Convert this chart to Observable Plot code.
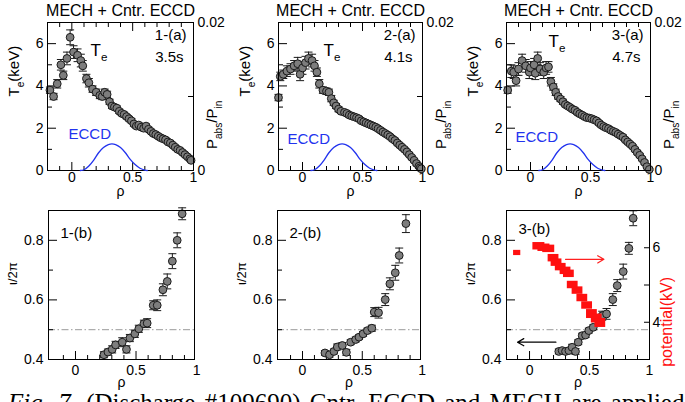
<!DOCTYPE html>
<html><head><meta charset="utf-8">
<script src="https://cdn.jsdelivr.net/npm/d3@7"></script>
<script src="https://cdn.jsdelivr.net/npm/@observablehq/plot@0.6"></script>
<style>
body{margin:0;background:#fff;}
#fig{position:relative;width:685px;height:402px;overflow:hidden;background:#fff;}
#caption{position:absolute;left:8px;top:390px;font-family:"Liberation Serif","Times New Roman",serif;font-size:25px;line-height:25px;word-spacing:3px;white-space:nowrap;color:#000;}
</style></head><body>
<div id="fig"><div id="caption"><i>Fig. 7.</i> (Discharge #109690) Cntr. ECCD and MECH are applied</div></div>
<script>
// ---------- text ----------
const titleText = "MECH + Cntr. ECCD";
const teAxisLabel = "T_{e}(keV)";
const pAxisLabel = "P_{abs}/P_{in}";
const rhoLabel = "ρ";
const iotaLabel = "ι/2π";
const potLabel = "potential(kV)";
const teMarkLabel = "T_{e}";
const eccdLabel = "ECCD";
const tagsA = ["1-(a)", "2-(a)", "3-(a)"];
const timesA = ["3.5s", "4.1s", "4.7s"];
const tagsB = ["1-(b)", "2-(b)", "3-(b)"];

// ---------- ticks ----------
const xMajorTicks = [0, 0.5, 1];
const xMinorTicks = [-0.1, 0.1, 0.2, 0.3, 0.4, 0.6, 0.7, 0.8, 0.9];
const teMajorTicks = [0, 2, 4, 6];
const teMinorTicks = [1, 3, 5];
const pabsTickLabels = [0, 0.02];
const pabsTicks = [0.01];
const iotaMajorTicks = [0.4, 0.6, 0.8];
const iotaMinorTicks = [0.5, 0.7];
const kvTickLabels = [4, 6];
const kvTicks = [4, 5, 6];
const iotaRational = [0.5];

// ---------- data: Te profiles ----------
const te1Rho = [-0.18,-0.15,-0.12,-0.09,-0.07,-0.04,-0.014,0.014,0.047,0.074,0.09,0.12,0.14,0.17,0.2,0.23,0.25,0.27,0.29,0.31,0.33,0.35,0.37,0.39,0.41,0.43,0.45,0.47,0.49,0.51,0.53,0.55,0.57,0.59,0.61,0.63,0.65,0.67,0.69,0.71,0.73,0.75,0.77,0.79,0.81,0.83,0.85,0.87,0.89,0.91,0.93,0.95,0.97,0.98];
const te1Val = [3.8,3.5,4.1,5.0,4.5,5.3,6.3,5.6,5.45,5.2,4.95,4.35,4.15,3.85,3.7,3.55,3.5,3.7,3.6,3.25,3.05,3.0,2.95,2.8,2.7,2.65,2.55,2.45,2.35,2.2,2.1,2.15,2.05,2.0,2.1,1.95,1.85,1.75,1.7,1.62,1.55,1.5,1.45,1.35,1.3,1.2,1.1,1.0,0.95,0.85,0.75,0.65,0.55,0.48];
const te1Err = [0.15,0.15,0.2,0.25,0.2,0.3,0.35,0.3,0.3,0.3,0.25,0.2,0.2,0.15,0.15,0.15,0.15,0.15,0.15,0.12,0.12,0.1,0.1,0.1,0.1,0.1,0.1,0.1,0.1,0.1,0.1,0.1,0.1,0.1,0.1,0.1,0.1,0.1,0.1,0.1,0.1,0.1,0.1,0.08,0.08,0.08,0.08,0.08,0.08,0.08,0.08,0.08,0.08,0.08];

const te2Rho = [-0.2,-0.185,-0.16,-0.13,-0.1,-0.07,-0.04,-0.02,0.0,0.025,0.05,0.08,0.1,0.12,0.14,0.17,0.2,0.22,0.24,0.26,0.28,0.3,0.32,0.35,0.37,0.39,0.41,0.43,0.45,0.47,0.49,0.51,0.53,0.55,0.57,0.59,0.61,0.63,0.65,0.67,0.69,0.71,0.73,0.75,0.77,0.79,0.81,0.83,0.85,0.87,0.89,0.91,0.93,0.95,0.97,0.98,0.99];
const te2Val = [3.45,4.45,4.55,4.7,4.8,4.95,5.05,4.55,4.85,5.1,5.3,5.2,4.95,4.65,4.1,3.8,3.75,3.7,3.4,3.2,3.05,2.9,2.8,2.75,2.7,2.62,2.58,2.54,2.5,2.45,2.35,2.3,2.25,2.2,2.15,2.1,2.05,1.98,1.9,1.82,1.75,1.68,1.6,1.5,1.42,1.3,1.2,1.1,1.0,0.88,0.75,0.62,0.48,0.33,0.2,0.13,0.08];
const te2Err = [0.15,0.2,0.2,0.25,0.25,0.25,0.3,0.3,0.3,0.3,0.3,0.3,0.25,0.2,0.2,0.15,0.15,0.15,0.15,0.12,0.12,0.12,0.1,0.1,0.1,0.1,0.1,0.1,0.1,0.1,0.1,0.1,0.1,0.1,0.1,0.1,0.1,0.1,0.1,0.1,0.1,0.1,0.1,0.1,0.1,0.08,0.08,0.08,0.08,0.08,0.08,0.08,0.08,0.08,0.08,0.06,0.06];

const te3Rho = [-0.19,-0.16,-0.14,-0.12,-0.1,-0.07,-0.04,-0.01,0.0,0.03,0.04,0.06,0.08,0.11,0.13,0.15,0.17,0.19,0.21,0.23,0.25,0.27,0.29,0.31,0.33,0.35,0.37,0.39,0.41,0.43,0.45,0.47,0.49,0.51,0.53,0.55,0.57,0.59,0.61,0.63,0.65,0.67,0.69,0.71,0.73,0.75,0.77,0.79,0.81,0.83,0.85,0.87,0.89,0.91,0.93,0.95,0.97,0.99];
const te3Val = [3.8,4.7,4.65,4.25,4.8,5.2,4.95,4.65,4.85,5.0,4.6,5.3,4.8,4.65,4.85,4.9,4.2,3.95,3.7,3.5,3.38,3.25,3.12,3.05,2.98,2.9,2.85,2.75,2.68,2.62,2.55,2.5,2.48,2.45,2.4,2.35,2.25,2.15,2.08,2.02,1.98,1.9,1.85,1.8,1.72,1.65,1.58,1.45,1.35,1.25,1.15,1.0,0.85,0.72,0.55,0.38,0.18,0.05];
const te3Err = [0.15,0.3,0.3,0.25,0.3,0.3,0.3,0.3,0.3,0.3,0.3,0.3,0.3,0.3,0.3,0.25,0.2,0.15,0.15,0.12,0.12,0.12,0.1,0.1,0.1,0.1,0.1,0.1,0.1,0.1,0.1,0.1,0.1,0.1,0.1,0.1,0.1,0.1,0.1,0.1,0.1,0.1,0.1,0.1,0.1,0.1,0.1,0.08,0.08,0.08,0.08,0.08,0.08,0.08,0.08,0.08,0.06,0.05];

// ---------- data: ECCD absorbed power ----------
const eccdRho = [0.07,0.1,0.14,0.18,0.22,0.26,0.3,0.33,0.36,0.4,0.44,0.48,0.52,0.56,0.6,0.62];
const eccdPabs = [0,0.0001,0.0006,0.0014,0.0024,0.0031,0.0035,0.0036,0.0035,0.0031,0.0024,0.0015,0.0008,0.0003,0.00005,0];

// ---------- data: rotational transform ----------
const iota1Rho = [0.235,0.268,0.303,0.331,0.386,0.421,0.449,0.49,0.523,0.565,0.592,0.642,0.675,0.722,0.758,0.8,0.84,0.881];
const iota1Val = [0.416,0.425,0.434,0.449,0.458,0.434,0.472,0.486,0.503,0.52,0.522,0.582,0.582,0.634,0.662,0.73,0.8,0.889];
const iota1Err = [0.01,0.01,0.012,0.012,0.015,0.012,0.012,0.012,0.012,0.012,0.015,0.015,0.018,0.02,0.025,0.025,0.025,0.02];

const iota2Rho = [0.188,0.226,0.263,0.291,0.333,0.367,0.403,0.445,0.473,0.507,0.543,0.58,0.6,0.636,0.692,0.731,0.776,0.809,0.865];
const iota2Val = [0.422,0.416,0.427,0.442,0.447,0.424,0.458,0.467,0.475,0.486,0.497,0.505,0.559,0.557,0.601,0.654,0.691,0.749,0.856];
const iota2Err = [0.008,0.008,0.008,0.01,0.01,0.01,0.008,0.008,0.008,0.008,0.008,0.01,0.015,0.018,0.02,0.02,0.025,0.025,0.03];

const iota3Rho = [0.244,0.272,0.3,0.328,0.355,0.383,0.406,0.439,0.467,0.494,0.531,0.578,0.606,0.642,0.694,0.731,0.781,0.828,0.864];
const iota3Val = [0.427,0.43,0.427,0.43,0.441,0.427,0.458,0.48,0.482,0.497,0.508,0.53,0.547,0.553,0.601,0.648,0.695,0.773,0.874];
const iota3Err = [0.008,0.008,0.008,0.008,0.01,0.01,0.008,0.008,0.008,0.008,0.008,0.01,0.015,0.018,0.02,0.02,0.025,0.02,0.025];

// ---------- data: potential (panel 3-(b)) ----------
const potRho = [-0.103,0.078,0.12,0.16,0.2,0.225,0.26,0.3,0.328,0.36,0.4,0.44,0.48,0.52,0.56,0.59];
const potKv = [5.86,6.04,6.0,5.97,5.72,5.6,5.48,5.38,5.3,5.0,4.85,4.65,4.45,4.22,4.1,3.98];
const potRhoErr = [0.03,0.05,0.05,0.05,0.045,0.045,0.045,0.045,0.045,0.045,0.045,0.045,0.045,0.045,0.045,0.045];
const potKvErr = [0.07,0.1,0.1,0.1,0.1,0.1,0.1,0.1,0.1,0.1,0.1,0.1,0.1,0.12,0.12,0.12];

// ---------- annotation arrows (panel 3-(b)) ----------
const iotaArrow = [{x1: 0.22, y1: 0.458, x2: -0.1, y2: 0.458}];
const potArrow = [{x1: 0.3, y1: 5.69, x2: 0.62, y2: 5.69}];

// ================= drawing =================
const FONT = '"Liberation Sans", Arial, Helvetica, sans-serif';
const fig = document.getElementById("fig");
const fmt = d3.format("~g");
const cap = {draw(ctx, size) { const w = Math.sqrt(size / Math.PI); ctx.moveTo(-w, 0); ctx.lineTo(w, 0); }};
const rowsOf = (rho, val, err) => rho.map((r, i) => ({rho: r, v: val[i], e: err[i] ?? 0.1}));

function subscripts(svg) {
  svg.querySelectorAll("text").forEach(t => {
    const s = t.textContent;
    if (!s.includes("_{")) return;
    const fs = parseFloat(getComputedStyle(t).fontSize) || 14;
    const parts = s.split(/_\{([^}]*)\}/);
    while (t.firstChild) t.removeChild(t.firstChild);
    let shifted = false;
    parts.forEach((p, i) => {
      const ts = document.createElementNS("http://www.w3.org/2000/svg", "tspan");
      ts.textContent = p;
      if (i % 2 === 1) { ts.setAttribute("font-size", (fs * 0.68).toFixed(1)); ts.setAttribute("dy", (fs * 0.3).toFixed(1)); shifted = true; }
      else if (shifted) { ts.setAttribute("dy", (-fs * 0.3).toFixed(1)); shifted = false; }
      if (p) t.appendChild(ts);
    });
  });
}

function mkPlot(o) {
  const el = Plot.plot({
    width: o.width, height: o.height,
    marginTop: o.mt, marginBottom: o.mb, marginLeft: o.ml, marginRight: o.mr,
    x: {domain: o.xdom, axis: null}, y: {domain: o.ydom, axis: null},
    style: {fontFamily: FONT, fontSize: "14px", color: "black"},
    marks: o.marks
  });
  el.style.position = "absolute";
  el.style.left = o.left + "px";
  el.style.top = o.top + "px";
  el.style.maxWidth = "none";
  el.style.background = "transparent";
  el.style.overflow = "visible";
  fig.appendChild(el);
  subscripts(el);
  return el;
}

const inDom = (vals, dom) => vals.filter(v => v > dom[0] + 1e-9 && v < dom[1] - 1e-9);
const tickX = (vals, anchor, size) => Plot.axisX(vals, {anchor, tickSize: -size, tickFormat: () => "", label: null});
const tickY = (vals, anchor, size) => Plot.axisY(vals, {anchor, tickSize: -size, tickFormat: () => "", label: null});

function errorMarks(rows) {
  return [
    Plot.ruleX(rows, {x: "rho", y1: d => d.v - d.e, y2: d => d.v + d.e, stroke: "#1a1a1a", strokeWidth: 1}),
    Plot.dot(rows, {x: "rho", y: d => d.v + d.e, symbol: cap, r: 4, fill: "none", stroke: "#1a1a1a", strokeWidth: 1}),
    Plot.dot(rows, {x: "rho", y: d => d.v - d.e, symbol: cap, r: 4, fill: "none", stroke: "#1a1a1a", strokeWidth: 1}),
    Plot.dot(rows, {x: "rho", y: "v", r: 3.9, fill: "#7d7d7d", stroke: "#1a1a1a", strokeWidth: 1})
  ];
}

// ---------- top panels ----------
const topPanels = [
  {rows: rowsOf(te1Rho, te1Val, te1Err), fl: 47, fw: 146, xdom: [-0.2, 1], teDx: 43, teDy: 28, eDx: 21, eDy: 112},
  {rows: rowsOf(te2Rho, te2Val, te2Err), fl: 278, fw: 144, xdom: [-0.2, 1], teDx: 45, teDy: 28, eDx: 9, eDy: 117},
  {rows: rowsOf(te3Rho, te3Val, te3Err), fl: 506, fw: 144, xdom: [-0.2, 1], teDx: 42, teDy: 19, eDx: 9, eDy: 115}
];
const eccdRows = eccdRho.map((r, i) => ({rho: r, p: eccdPabs[i]}));

topPanels.forEach((p, k) => {
  const base = {left: p.fl - 50, top: 0, width: 50 + p.fw + 40, height: 202, mt: 22, mb: 32, ml: 50, mr: 40, xdom: p.xdom};
  mkPlot({...base, ydom: [0, 7], marks: [
    tickX(inDom(xMajorTicks, p.xdom), "bottom", 8),
    tickX(xMinorTicks, "bottom", 4),
    tickX(inDom(xMajorTicks, p.xdom), "top", 8),
    tickX(xMinorTicks, "top", 4),
    tickY(inDom(teMajorTicks, [0, 7]), "left", 9),
    tickY(teMinorTicks, "left", 5),
    Plot.axisX(xMajorTicks, {anchor: "bottom", tickSize: 0, tickPadding: 2, label: null, fontSize: 14, tickFormat: fmt}),
    Plot.axisY(teMajorTicks, {anchor: "left", tickSize: 0, tickPadding: 4, label: null, fontSize: 14, tickFormat: fmt}),
    ...errorMarks(p.rows),
    Plot.frame({stroke: "black", strokeWidth: 1}),
    Plot.text([titleText], {frameAnchor: "top", dy: -7, lineAnchor: "bottom", fontSize: 16}),
    Plot.text([tagsA[k]], {frameAnchor: "top-right", dx: -7, dy: 13, textAnchor: "end", lineAnchor: "middle", fontSize: 15}),
    Plot.text([timesA[k]], {frameAnchor: "top-right", dx: -10, dy: 35, textAnchor: "end", lineAnchor: "middle", fontSize: 15}),
    Plot.text([teMarkLabel], {frameAnchor: "top-left", dx: p.teDx, dy: p.teDy, textAnchor: "start", lineAnchor: "middle", fontSize: 17}),
    Plot.text([eccdLabel], {frameAnchor: "top-left", dx: p.eDx, dy: p.eDy, textAnchor: "start", lineAnchor: "middle", fontSize: 15, fill: "#2233ee"}),
    Plot.text([teAxisLabel], {frameAnchor: "left", dx: -33, rotate: -90, fontSize: 15}),
    Plot.text([rhoLabel], {frameAnchor: "bottom", dy: 16, lineAnchor: "top", fontSize: 14})
  ]});
  mkPlot({...base, ydom: [0, 0.02], marks: [
    Plot.line(eccdRows, {x: "rho", y: "p", stroke: "#2233ee", strokeWidth: 1.3, curve: "monotone-x"}),
    tickY(pabsTicks, "right", 6),
    Plot.axisY(pabsTickLabels, {anchor: "right", tickSize: 0, tickPadding: 4, label: null, fontSize: 14, tickFormat: fmt}),
    Plot.text([pAxisLabel], {frameAnchor: "right", dx: 19, dy: 4, rotate: -90, fontSize: 15})
  ]});
});

// ---------- bottom panels ----------
const botPanels = [
  {rows: rowsOf(iota1Rho, iota1Val, iota1Err), fl: 48, fw: 146, xdom: [-0.223, 0.983]},
  {rows: rowsOf(iota2Rho, iota2Val, iota2Err), fl: 277, fw: 143, xdom: [-0.209, 0.987]},
  {rows: rowsOf(iota3Rho, iota3Val, iota3Err), fl: 506, fw: 143, xdom: [-0.192, 1.0]}
];
const potRows = potRho.map((r, i) => ({rho: r, kv: potKv[i], xe: potRhoErr[i], ye: potKvErr[i]}));

botPanels.forEach((p, k) => {
  const base = {left: p.fl - 50, top: 200, width: 50 + p.fw + 40, height: 192, mt: 10, mb: 33, ml: 50, mr: 40, xdom: p.xdom};
  mkPlot({...base, ydom: [0.4, 0.9], marks: [
    Plot.ruleY(iotaRational, {stroke: "#9a9a9a", strokeWidth: 1, strokeDasharray: "7,2.5,1.5,2.5"}),
    tickX(inDom(xMajorTicks, p.xdom), "bottom", 8),
    tickX(xMinorTicks, "bottom", 4),
    tickY(inDom(iotaMajorTicks, [0.4, 0.9]), "left", 9),
    tickY(iotaMinorTicks, "left", 5),
    Plot.axisX(xMajorTicks, {anchor: "bottom", tickSize: 0, tickPadding: 6, label: null, fontSize: 14, tickFormat: fmt}),
    Plot.axisY(iotaMajorTicks, {anchor: "left", tickSize: 0, tickPadding: 5, label: null, fontSize: 14, tickFormat: fmt}),
    ...errorMarks(p.rows),
    ...(k === 2 ? [Plot.arrow(iotaArrow, {x1: "x1", y1: "y1", x2: "x2", y2: "y2", stroke: "black", strokeWidth: 1.2, headLength: 9})] : []),
    Plot.frame({stroke: "black", strokeWidth: 1}),
    Plot.text([tagsB[k]], {frameAnchor: "top-left", dx: 12, dy: k === 2 ? 19 : 23, textAnchor: "start", lineAnchor: "middle", fontSize: 15}),
    Plot.text([iotaLabel], {frameAnchor: "left", dx: -36, rotate: -90, fontSize: 13}),
    Plot.text([rhoLabel], {frameAnchor: "bottom", dy: 18, lineAnchor: "top", fontSize: 14})
  ]});
  if (k === 2) {
    mkPlot({...base, ydom: [3, 7], marks: [
      Plot.rect(potRows, {x1: d => d.rho - d.xe, x2: d => d.rho + d.xe, y1: d => d.kv - d.ye, y2: d => d.kv + d.ye, fill: "#ff1010"}),
      Plot.arrow(potArrow, {x1: "x1", y1: "y1", x2: "x2", y2: "y2", stroke: "#ff2020", strokeWidth: 1.2, headLength: 9}),
      tickY(kvTicks, "right", 6),
      Plot.axisY(kvTickLabels, {anchor: "right", tickSize: 0, tickPadding: 3, label: null, fontSize: 14, tickFormat: fmt}),
      Plot.text([potLabel], {frameAnchor: "right", dx: 17, dy: -8, rotate: -90, fontSize: 16, fill: "#ff1010"})
    ]});
  }
});
</script>
</body></html>
